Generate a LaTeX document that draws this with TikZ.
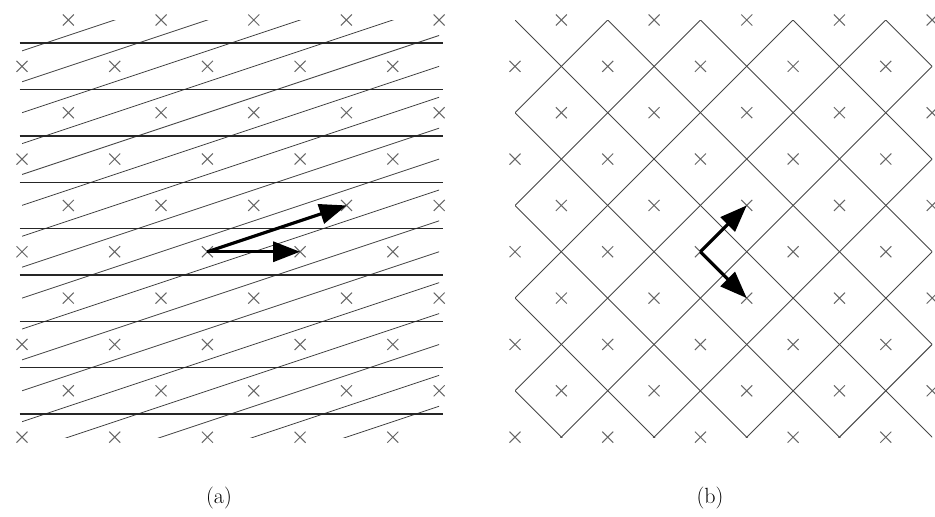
\documentclass[tikz,border=0pt]{standalone}
\usetikzlibrary{arrows.meta}
\tikzset{
  crs/.style={draw=black!60, line width=1pt},
  hline/.style={draw=black!85, line width=1.4pt},
  slant/.style={draw=black!75, line width=0.8pt},
  cell/.style={draw=black!72, line width=0.9pt},
  vec/.style={draw=black, line width=3.2pt, -{Triangle[length=27pt,width=20pt]}},
  lab/.style={font=\fontsize{22}{26}\selectfont, inner sep=0pt}
}
\begin{document}
\begin{tikzpicture}
\useasboundingbox (0,0) rectangle (935pt,-517pt);
% ---------- panel (a)
\begin{scope}[shift={(22pt,-20pt)}, x=46.35pt, y=-46.35pt]
  \begin{scope}
    \clip (0,0) rectangle (9,9);
    \foreach \c in {2,4,...,34}
      \draw[slant] ({\c+3},-1) -- ({\c-30},10);
  \end{scope}
  \foreach \j in {0.5,1.5,...,8.5}
    \draw[hline] (-0.05,\j) -- (9.08,\j);
  \foreach \i in {0,...,9}{
    \foreach \j in {0,...,9}{
      \pgfmathparse{int(mod(\i+\j,2))}
      \ifnum\pgfmathresult=1
        \coordinate (a\i-\j) at (\i,\j);
        \draw[crs] (\i,\j) ++(-5.5pt,-5.5pt) -- ++(11pt,11pt) ++(-11pt,0pt) -- ++(11pt,-11pt);
      \fi
    }
  }
  \draw[vec] (a4-5) -- (a6-5);
  \draw[vec] (a4-5) -- (a7-4);
\end{scope}
% ---------- panel (b)
\begin{scope}[shift={(515pt,-20pt)}, x=46.35pt, y=-46.35pt]
  \begin{scope}
    \clip (0,0) rectangle (9,9);
    \foreach \k in {2,4,...,16}
      \draw[cell] ({\k+1},-1) -- ({\k-10},10);
    \foreach \m in {-8,-6,...,8}
      \draw[cell] ({\m-1},-1) -- ({\m+10},10);
  \end{scope}
  \foreach \i in {0,...,9}{
    \foreach \j in {0,...,9}{
      \pgfmathparse{int(mod(\i+\j,2))}
      \ifnum\pgfmathresult=1
        \coordinate (b\i-\j) at (\i,\j);
        \draw[crs] (\i,\j) ++(-5.5pt,-5.5pt) -- ++(11pt,11pt) ++(-11pt,0pt) -- ++(11pt,-11pt);
      \fi
    }
  }
  \draw[vec] (b4-5) -- (b5-4);
  \draw[vec] (b4-5) -- (b5-6);
\end{scope}
\node[lab] (la) at (219pt,-498pt) {(a)};
\node[lab] (lb) at (710pt,-498pt) {(b)};
\end{tikzpicture}
\end{document}
